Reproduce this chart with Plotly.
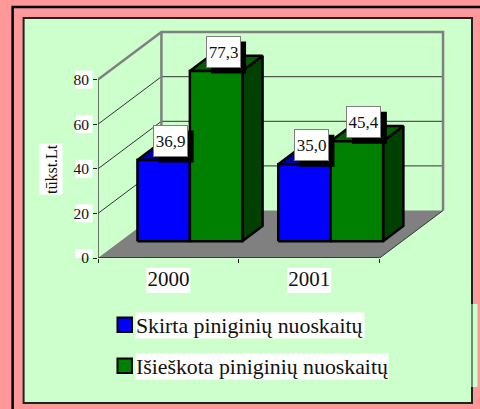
import plotly.graph_objects as go

categories = ["2000", "2001"]
skirta = [36.9, 35.0]
isieskota = [77.3, 45.4]
y_ticks = [0, 20, 40, 60, 80]
series_names = ["Skirta piniginių nuoskaitų", "Išieškota piniginių nuoskaitų"]
y_title = "tūkst.Lt"

W, H = 480, 409
AX_L, AX_B, AX_T, AX_R = 97.5, 258.0, 25.0, 473.0
PX_CAT, PX_VAL = 141.0, 2.23
DX, DY = 63.5 / PX_CAT, 47.5 / PX_VAL
D0, D1 = 0.354, 0.674
BAR_K = 0.987
GAP, BW = 17 / PX_CAT, 52.5 / PX_CAT
FONT = "Liberation Serif"
INK = "#111111"

def pxx(v): return (v - AX_L) / (AX_R - AX_L)
def pxy(v): return (AX_B - v) / (AX_B - AX_T)
def proj(c, v, d, k=1.0): return c + d * DX, v * k + d * DY

fig = go.Figure()
def poly(pts, color, lw=0.0, lc="black", name=None):
    fig.add_trace(go.Scatter(x=[p[0] for p in pts] + [pts[0][0]], y=[p[1] for p in pts] + [pts[0][1]],
        mode="lines", fill="toself", fillcolor=color, line=dict(color=lc, width=lw),
        hoverinfo="skip", showlegend=False, cliponaxis=False, name=name))
def line(pts, color, lw):
    fig.add_trace(go.Scatter(x=[p[0] for p in pts], y=[p[1] for p in pts], mode="lines",
        line=dict(color=color, width=lw), hoverinfo="skip", showlegend=False, cliponaxis=False))

XMAX = len(categories)
# floor
poly([proj(0, 0, 0), proj(XMAX, 0, 0), proj(XMAX, 0, 1), proj(0, 0, 1)], "#808080")
# gridlines
for t in y_ticks[1:-1]:
    line([proj(0, t, 0), proj(0, t, 1), proj(XMAX, t, 1)], "#333333", 1)
# wall frame
top = y_ticks[-1]
line([proj(0, 0, 1), proj(0, top, 1)], "#808080", 2.5)
line([proj(0, top, 0), proj(0, top, 1), proj(XMAX, top, 1), proj(XMAX, 0, 1)], "#808080", 2.5)
line([proj(XMAX, 0, 0), proj(XMAX, 0, 1)], "#333333", 1)
line([proj(0, 0, 0), proj(XMAX, 0, 0)], "#222222", 1.5)
line([proj(0, 0, 0), proj(0, top, 0)], "#444444", 1.5)

styles = [("#0000FF", "#0000A8", "#000080"), ("#008000", "#006000", "#004000")]
shapes, annos = [], []

def white_box(xref, x, yref, y, w, h, fill="white"):
    return dict(type="rect", xref=xref, yref=yref, xsizemode="pixel", ysizemode="pixel",
                xanchor=x, yanchor=y, x0=-w / 2, x1=w / 2, y0=-h / 2, y1=h / 2,
                fillcolor=fill, line_width=0, layer="below")

for i, cat in enumerate(categories):
    for s, vals in enumerate([skirta, isieskota]):
        v = vals[i]
        left = i + GAP + s * BW
        right = left + BW
        front, tp, side = styles[s]
        poly([proj(right, 0, D0), proj(right, 0, D1), proj(right, v, D1, BAR_K), proj(right, v, D0, BAR_K)], side, 2.5)
        poly([proj(left, v, D0, BAR_K), proj(right, v, D0, BAR_K), proj(right, v, D1, BAR_K), proj(left, v, D1, BAR_K)], tp, 2.5)
        poly([proj(left, 0, D0), proj(right, 0, D0), proj(right, v, D0, BAR_K), proj(left, v, D0, BAR_K)], front, 2.5, name=series_names[s])
# labels drawn after all bars
for i, cat in enumerate(categories):
    for s, vals in enumerate([skirta, isieskota]):
        v = vals[i]
        left = i + GAP + s * BW
        ax, ay = proj(left + BW / 2, v, D0, BAR_K)
        sh = white_box("x", ax, "y", ay, 35, 32, "black")
        sh.update(x0=7 - 17.5 + 5.5, x1=7 + 17.5 + 5.5, y0=19 - 16 - 5.5, y1=19 + 16 - 5.5, layer="above")
        shapes.append(sh)
        annos.append(dict(x=ax, y=ay, xref="x", yref="y", text=f"{v:.1f}".replace(".", ","),
                          showarrow=False, xshift=7, yshift=19, width=33, height=30, borderpad=0,
                          bgcolor="white", bordercolor="#808080", borderwidth=1,
                          font=dict(family=FONT, size=17, color=INK)))

# white label backings
for t in y_ticks:
    shapes.append(white_box("paper", pxx(83.5), "y", t, 17, 18))
for i in range(len(categories)):
    shapes.append(white_box("x", i + 0.5, "paper", pxy(280.5), 44, 25))

# panel
shapes = [
    dict(type="rect", xref="paper", yref="paper", x0=pxx(12), x1=pxx(490), y0=pxy(7), y1=pxy(420),
         line=dict(color="black", width=2.5), fillcolor="#FF9999", layer="below"),
    dict(type="rect", xref="paper", yref="paper", x0=pxx(472), x1=pxx(477.5), y0=pxy(304), y1=pxy(387),
         line_width=0, fillcolor="#CCFFCC", layer="below"),
    dict(type="rect", xref="paper", yref="paper", x0=pxx(23), x1=pxx(472), y0=pxy(18), y1=pxy(403),
         line=dict(color="#222222", width=2), fillcolor="#CCFFCC", layer="below"),
    dict(type="rect", xref="paper", yref="paper", x0=pxx(471), x1=pxx(473), y0=pxy(304), y1=pxy(387),
         line_width=0, fillcolor="#708F70", layer="below"),
] + shapes

# legend
leg_y = [325, 366]
leg_w = [228, 252]
for yy, w, name, st in zip(leg_y, leg_w, series_names, styles):
    shapes.append(dict(type="rect", xref="paper", yref="paper", x0=pxx(117), x1=pxx(131.5), y0=pxy(yy - 7.5), y1=pxy(yy + 7),
                       fillcolor=st[0], line=dict(color="black", width=2)))
    annos.append(dict(x=pxx(134.5), y=pxy(yy + 0.5), xref="paper", yref="paper", xanchor="left", yanchor="middle",
                      text=name, showarrow=False, width=w, height=25, align="left", borderpad=0,
                      bgcolor="white", font=dict(family=FONT, size=21.8, color=INK)))
annos.append(dict(x=pxx(50), y=pxy(169.5), xref="paper", yref="paper", xanchor="center", yanchor="middle",
                  text=y_title, textangle=-90,
                  showarrow=False, bgcolor="white", borderpad=0, width=50, height=22,
                  font=dict(family=FONT, size=16, color=INK)))

fig.update_layout(
    width=W, height=H, autosize=False,
    margin=dict(l=AX_L, r=W - AX_R, t=AX_T, b=H - AX_B, pad=0),
    paper_bgcolor="#FF9999", plot_bgcolor="rgba(0,0,0,0)", showlegend=False,
    shapes=shapes, annotations=annos,
    font=dict(family=FONT, color=INK),
    xaxis=dict(range=[0, (AX_R - AX_L) / PX_CAT], showgrid=False, zeroline=False, showline=False,
               tickmode="array", tickvals=[i + 0.5 for i in range(len(categories))], ticktext=categories,
               ticks="", tickfont=dict(family=FONT, size=21, color=INK), ticklabelstandoff=6,
               minor=dict(tickmode="array", tickvals=list(range(len(categories) + 1)), ticks="outside",
                          ticklen=4, tickwidth=1, tickcolor="#222222")),
    yaxis=dict(range=[0, (AX_B - AX_T) / PX_VAL], showgrid=False, zeroline=False, showline=False,
               tickmode="array", tickvals=y_ticks, ticktext=[str(t) for t in y_ticks],
               ticks="outside", ticklen=4, tickwidth=1, tickcolor="#222222", ticklabelstandoff=1,
               tickfont=dict(family=FONT, size=15.5, color=INK)),
)
fig.write_html("out.html", config={"displayModeBar": False},
               post_script="document.body.style.margin='0';")
